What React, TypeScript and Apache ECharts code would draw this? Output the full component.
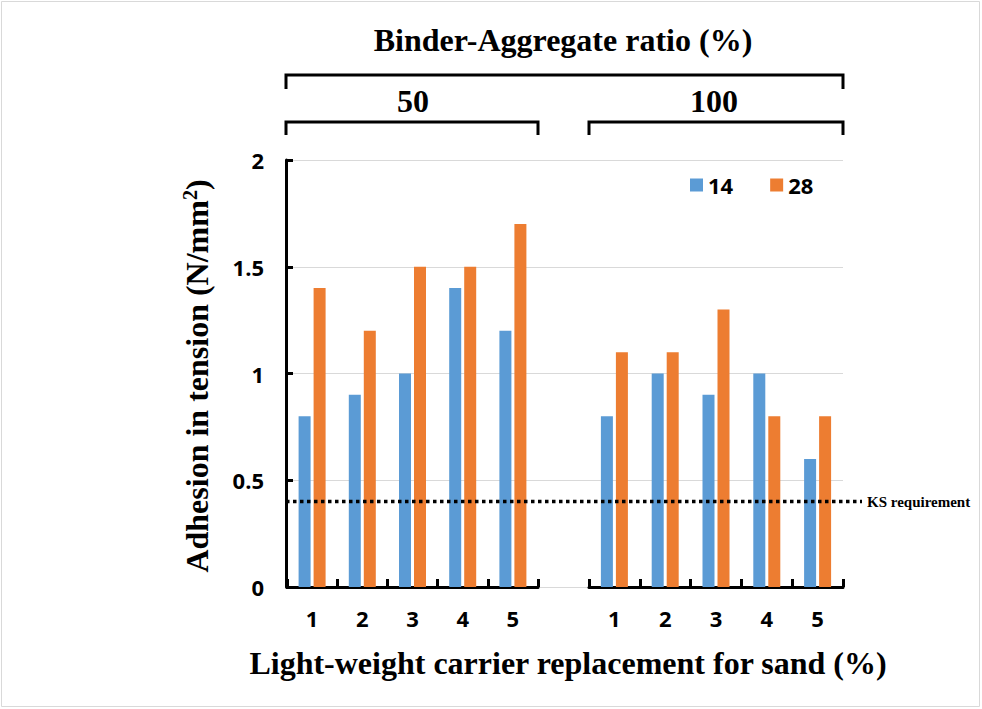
import React, { useEffect, useRef } from "react";
import * as echarts from "echarts";

const categories = ["1", "2", "3", "4", "5"];
const seriesNames = ["14", "28"];
const ratio50_14 = [0.8, 0.9, 1.0, 1.4, 1.2];
const ratio50_28 = [1.4, 1.2, 1.5, 1.5, 1.7];
const ratio100_14 = [0.8, 1.0, 0.9, 1.0, 0.6];
const ratio100_28 = [1.1, 1.1, 1.3, 0.8, 0.8];
const groupLabels = ["50", "100"];
const ksRequirement = 0.4;
const yMin = 0;
const yMax = 2;
const yInterval = 0.5;

const BLUE = "#5B9BD5";
const ORANGE = "#ED7D31";
const SERIF = "'Liberation Serif', 'Times New Roman', serif";
const SANS = "'Open Sans', 'Liberation Sans', sans-serif";

export default function App() {
  const ref = useRef<HTMLDivElement>(null);
  useEffect(() => {
    if (!ref.current) return;
    const chart = echarts.init(ref.current, undefined, { renderer: "svg" });
    const top = 160;
    const height = 427;
    const catAxis = (gridIndex: number) => ({
      type: "category",
      gridIndex,
      data: categories,
      axisLine: { show: true, lineStyle: { color: "#000", width: 3 } },
      axisTick: { show: true, inside: true, length: 8, lineStyle: { color: "#000", width: 3 } },
      axisLabel: { color: "#000", fontFamily: SANS, fontWeight: "bold", fontSize: 22, margin: 20 },
      splitLine: { show: false },
    });
    const hiddenY = (gridIndex: number) => ({
      type: "value",
      gridIndex,
      min: yMin,
      max: yMax,
      interval: yInterval,
      show: false,
      splitLine: { show: false },
    });
    const barSeries = (name: string, data: number[], idx: number, color: string) => ({
      type: "bar",
      name,
      xAxisIndex: idx,
      yAxisIndex: idx,
      data,
      barWidth: 12,
      barGap: "25%",
      itemStyle: { color },
    });
    chart.setOption({
      animation: false,
      backgroundColor: "#fff",
      grid: [
        { left: 286, top, width: 557, height },
        { left: 287, top, width: 251, height },
        { left: 589, top, width: 254, height },
        { left: 286, top, width: 576, height },
      ],
      xAxis: [
        { type: "value", gridIndex: 0, min: 0, max: 1, show: false },
        catAxis(1),
        catAxis(2),
        { type: "value", gridIndex: 3, min: 0, max: 1, show: false },
      ],
      yAxis: [
        {
          type: "value",
          gridIndex: 0,
          min: yMin,
          max: yMax,
          interval: yInterval,
          axisLine: { show: true, lineStyle: { color: "#000", width: 3 } },
          axisTick: { show: true, inside: true, length: 7, lineStyle: { color: "#000", width: 3 } },
          axisLabel: { color: "#000", fontFamily: SANS, fontWeight: "bold", fontSize: 22, margin: 22 },
          splitLine: { show: true, lineStyle: { color: "#d9d9d9", width: 1 } },
        },
        hiddenY(1),
        hiddenY(2),
        hiddenY(3),
      ],
      legend: {
        data: seriesNames,
        left: 685,
        top: 169,
        icon: "rect",
        itemWidth: 13,
        itemHeight: 13,
        itemGap: 37,
        textStyle: { color: "#000", fontFamily: SANS, fontWeight: "bold", fontSize: 22 },
      },
      series: [
        barSeries(seriesNames[0], ratio50_14, 1, BLUE),
        barSeries(seriesNames[1], ratio50_28, 1, ORANGE),
        barSeries(seriesNames[0], ratio100_14, 2, BLUE),
        barSeries(seriesNames[1], ratio100_28, 2, ORANGE),
        {
          type: "line",
          name: "KS requirement",
          xAxisIndex: 3,
          yAxisIndex: 3,
          data: [
            [0, ksRequirement],
            [1, ksRequirement],
          ],
          symbol: "none",
          lineStyle: { color: "#000", width: 3.5, type: [3.5, 3.5] },
          endLabel: {
            show: true,
            formatter: "KS requirement",
            distance: 5,
            color: "#000",
            fontFamily: SERIF,
            fontWeight: "bold",
            fontSize: 15,
          },
          z: 5,
        },
      ],
      graphic: [
        {
          type: "rect",
          shape: { x: 1.5, y: 1.5, width: 978, height: 705 },
          style: { fill: "none", stroke: "#d9d9d9", lineWidth: 1 },
          silent: true,
        },
        {
          type: "text",
          x: 563,
          y: 40,
          style: {
            text: "Binder-Aggregate ratio (%)",
            fill: "#000",
            font: `bold 32px ${SERIF}`,
            textAlign: "center",
            textVerticalAlign: "middle",
          },
        },
        {
          type: "polyline",
          shape: { points: [[286, 89], [286, 75], [843, 75], [843, 89]] },
          style: { stroke: "#000", lineWidth: 3, fill: "none" },
        },
        {
          type: "text",
          x: 413,
          y: 101,
          style: {
            text: groupLabels[0],
            fill: "#000",
            font: `bold 32px ${SERIF}`,
            textAlign: "center",
            textVerticalAlign: "middle",
          },
        },
        {
          type: "text",
          x: 714,
          y: 101,
          style: {
            text: groupLabels[1],
            fill: "#000",
            font: `bold 32px ${SERIF}`,
            textAlign: "center",
            textVerticalAlign: "middle",
          },
        },
        {
          type: "polyline",
          shape: { points: [[286, 135], [286, 122], [538, 122], [538, 135]] },
          style: { stroke: "#000", lineWidth: 3, fill: "none" },
        },
        {
          type: "polyline",
          shape: { points: [[589, 135], [589, 122], [843, 122], [843, 135]] },
          style: { stroke: "#000", lineWidth: 3, fill: "none" },
        },
        {
          type: "text",
          x: 568,
          y: 663,
          style: {
            text: "Light-weight carrier replacement for sand (%)",
            fill: "#000",
            font: `bold 32px ${SERIF}`,
            textAlign: "center",
            textVerticalAlign: "middle",
          },
        },
        {
          type: "text",
          x: 197,
          y: 376,
          rotation: Math.PI / 2,
          style: {
            text: "Adhesion in tension (N/mm{sup|2})",
            fill: "#000",
            font: `bold 32px ${SERIF}`,
            textAlign: "center",
            textVerticalAlign: "middle",
            rich: {
              sup: {
                fontFamily: SERIF,
                fontWeight: "bold",
                fontSize: 20,
                verticalAlign: "top",
                padding: [0, 0, 14, 0],
                fill: "#000",
              },
            },
          },
        },
      ],
    });
    return () => chart.dispose();
  }, []);
  return (
    <div
      ref={ref}
      style={{ position: "absolute", left: 0, top: 0, width: 982, height: 709 }}
    />
  );
}
